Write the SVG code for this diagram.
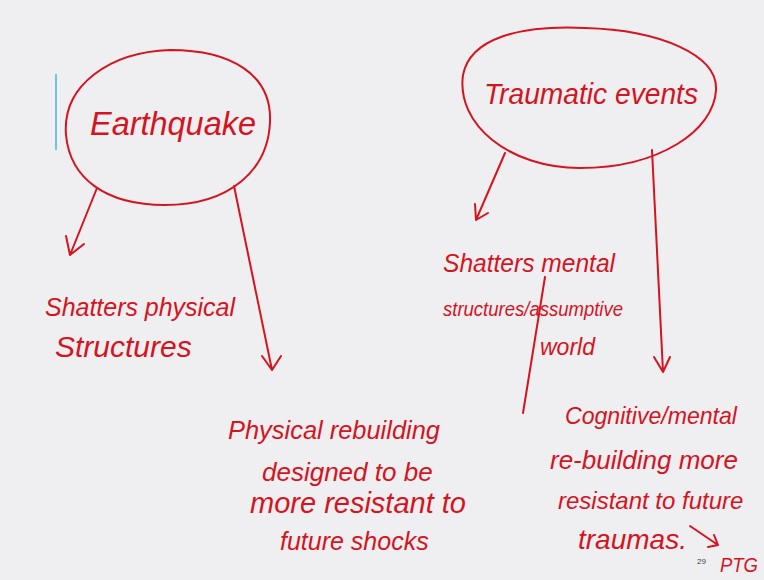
<svg xmlns="http://www.w3.org/2000/svg" width="764" height="580" viewBox="0 0 764 580">
  <defs>
    <style>
      .ink { fill: none; stroke: #d4141e; stroke-width: 2; stroke-linecap: round; stroke-linejoin: round; }
      .hand { fill: #d4141e; font-family: "Liberation Sans", "DejaVu Sans", sans-serif; font-style: italic; }
    </style>
  </defs>
  <rect width="764" height="580" fill="#efeef1"/>
  <!-- pen cursor -->
  <line x1="56" y1="74" x2="56" y2="150" stroke="#6fc3dc" stroke-width="2"/>

  <g id="earthquake">
    <path class="ink" d="M66,135 C62,85 110,52 170,50 C232,50 272,75 270,122 C268,170 230,205 165,205 C105,205 70,178 66,135 Z"/>
    <text class="hand" font-size="34" x="90" y="135" textLength="166" lengthAdjust="spacingAndGlyphs">Earthquake</text>
  </g>

  <g id="traumatic-events">
    <path class="ink" d="M463,75 C470,38 520,25 585,28 C660,30 718,55 716,90 C714,130 660,168 580,168 C510,168 456,125 463,75 Z"/>
    <text class="hand" font-size="30" x="484" y="104" textLength="214" lengthAdjust="spacingAndGlyphs">Traumatic events</text>
  </g>

  <g id="shatters-physical">
    <text class="hand" font-size="26" x="45" y="316" textLength="190" lengthAdjust="spacingAndGlyphs">Shatters physical</text>
    <text class="hand" font-size="30" x="55" y="357">Structures</text>
  </g>

  <g id="physical-rebuilding">
    <text class="hand" font-size="26" x="228" y="439" textLength="212" lengthAdjust="spacingAndGlyphs">Physical rebuilding</text>
    <text class="hand" font-size="26" x="262" y="481">designed to be</text>
    <text class="hand" font-size="29" x="250" y="513">more resistant to</text>
    <text class="hand" font-size="25" x="280" y="550">future shocks</text>
  </g>

  <g id="shatters-mental">
    <text class="hand" font-size="25" x="443" y="272" textLength="172" lengthAdjust="spacingAndGlyphs">Shatters mental</text>
    <text class="hand" font-size="20" x="443" y="316" textLength="180" lengthAdjust="spacingAndGlyphs">structures/assumptive</text>
    <text class="hand" font-size="23" x="540" y="355">world</text>
  </g>

  <g id="cognitive-rebuilding">
    <text class="hand" font-size="24" x="565" y="424" textLength="172" lengthAdjust="spacingAndGlyphs">Cognitive/mental</text>
    <text class="hand" font-size="26" x="550" y="469">re-building more</text>
    <text class="hand" font-size="24" x="558" y="509">resistant to future</text>
    <text class="hand" font-size="28" x="578" y="549">traumas.</text>
  </g>

  <g id="ptg">
    <text class="hand" font-size="20" x="720" y="572" textLength="38" lengthAdjust="spacingAndGlyphs">PTG</text>
  </g>

  <g id="connectors">
    <!-- Earthquake branches -->
    <path class="ink" d="M97,188 L70,255 M66,236 L70,255 L84,244"/>
    <path class="ink" d="M234,186 L272,370 M262,356 L272,370 L281,356"/>
    <!-- Traumatic events branches -->
    <path class="ink" d="M505,153 L476,220 M475,204 L476,220 L488,213"/>
    <path class="ink" d="M652,150 L663,372 M654,357 L663,372 L670,357"/>
    <!-- slash stroke running through the mental-structures text -->
    <path class="ink" d="M545,277 L523,413"/>
    <!-- traumas to PTG -->
    <path class="ink" d="M690,526 L718,545 M708,547 L718,545 L714,535"/>
  </g>

  <text x="697" y="564" font-family="Liberation Sans, sans-serif" font-size="8" fill="#444">29</text>
</svg>
